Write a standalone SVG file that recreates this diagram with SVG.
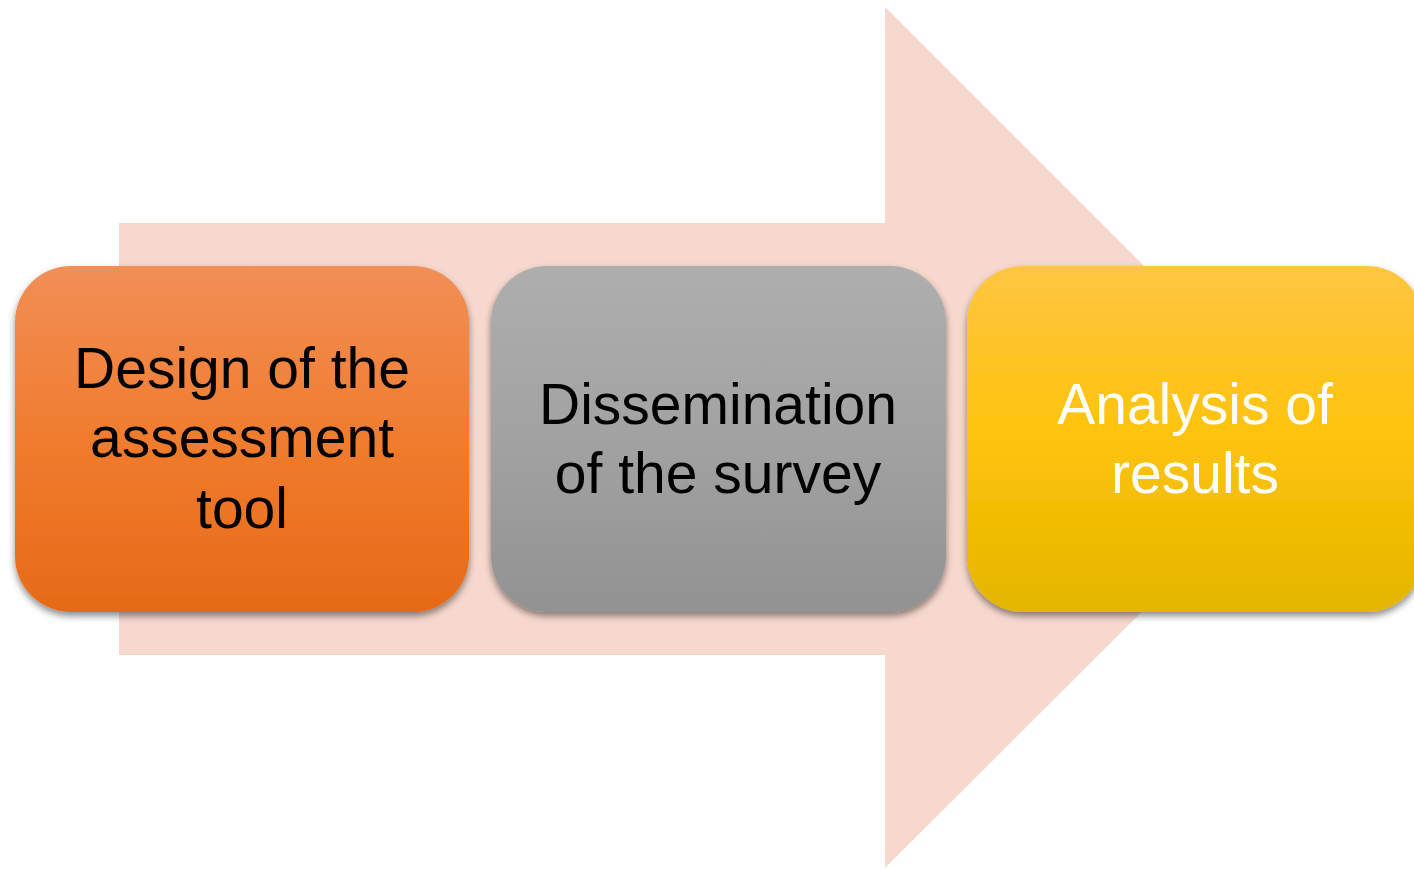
<svg xmlns="http://www.w3.org/2000/svg" width="1414" height="869" viewBox="0 0 1414 869">
  <defs>
    <linearGradient id="gOrange" x1="0" y1="0" x2="0" y2="1">
      <stop offset="0" stop-color="#F18F57"/>
      <stop offset="0.5" stop-color="#F07C2E"/>
      <stop offset="1" stop-color="#E66A17"/>
    </linearGradient>
    <linearGradient id="gGray" x1="0" y1="0" x2="0" y2="1">
      <stop offset="0" stop-color="#AEAEAE"/>
      <stop offset="0.5" stop-color="#A2A2A2"/>
      <stop offset="1" stop-color="#929292"/>
    </linearGradient>
    <linearGradient id="gYellow" x1="0" y1="0" x2="0" y2="1">
      <stop offset="0" stop-color="#FEC642"/>
      <stop offset="0.5" stop-color="#FEC30A"/>
      <stop offset="1" stop-color="#E4B600"/>
    </linearGradient>
    <filter id="shadow" x="-10%" y="-10%" width="120%" height="130%">
      <feDropShadow dx="0" dy="4" stdDeviation="3.5" flood-color="#000" flood-opacity="0.45"/>
    </filter>
  </defs>
  <style>
    .box { filter: url(#shadow); }
    .label { font-family: "Liberation Sans", Arial, sans-serif; font-size: 57px; text-anchor: middle; }
    .dark { fill: #000; }
    .light { fill: #fff; }
  </style>

  <rect width="1414" height="869" fill="#fff"/>

  <!-- background process arrow -->
  <g id="connectors">
    <polygon points="119,223 885,223 885,7 1316,438 885,868 885,655 119,655" fill="#F7D8CE"/>
  </g>

  <g id="step-design">
    <rect class="box" x="15" y="266" width="454" height="346" rx="56" ry="56" fill="url(#gOrange)"/>
    <text class="label dark" x="242" y="388">Design of the</text>
    <text class="label dark" x="242" y="457">assessment</text>
    <text class="label dark" x="242" y="528">tool</text>
  </g>

  <g id="step-dissemination">
    <rect class="box" x="491" y="266" width="455" height="346" rx="56" ry="56" fill="url(#gGray)"/>
    <text class="label dark" x="718" y="424">Dissemination</text>
    <text class="label dark" x="718" y="493">of the survey</text>
  </g>

  <g id="step-analysis">
    <rect class="box" x="967" y="266" width="456" height="346" rx="56" ry="56" fill="url(#gYellow)"/>
    <text class="label light" x="1195" y="424">Analysis of</text>
    <text class="label light" x="1195" y="493">results</text>
  </g>
</svg>
